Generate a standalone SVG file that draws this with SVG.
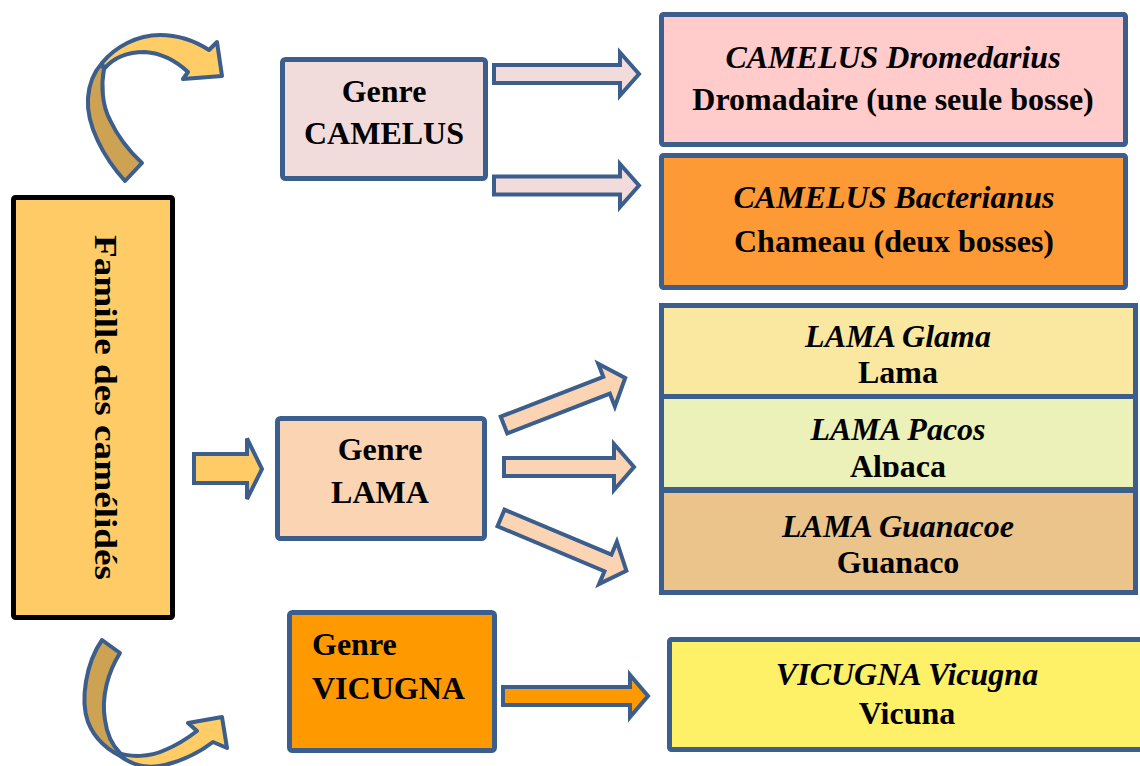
<svg xmlns="http://www.w3.org/2000/svg" width="1140" height="766" viewBox="0 0 1140 766">
  <defs>
    <style>
      .box { stroke: #3B5E8C; stroke-width: 5; }
      .blk { stroke: #3B5E8C; stroke-width: 4; stroke-linejoin: miter; }
      .curve { stroke: #3B5E8C; stroke-width: 4; stroke-linejoin: round; }
      text { font-family: "Liberation Serif", "Times New Roman", serif; font-size: 32px; font-weight: bold; fill: #000; }
      .c { text-anchor: middle; }
      .it { font-style: italic; }
    </style>
    <clipPath id="alpacaClip">
      <rect x="662" y="398" width="474" height="79"/>
    </clipPath>
  </defs>
  <rect width="1140" height="766" fill="#FFFFFF"/>

  <!-- family (vertical label) -->
  <g id="famille">
    <rect x="13.5" y="197.5" width="159" height="420" rx="2" fill="#FECB67" stroke="#000" stroke-width="5"/>
    <text transform="translate(95,407.5) rotate(90)" class="c" font-size="28" textLength="345" lengthAdjust="spacingAndGlyphs">Famille des camélidés</text>
  </g>

  <!-- genus boxes -->
  <g id="genre-camelus">
    <rect class="box" x="282.5" y="59.5" width="203" height="119" rx="3" fill="#F2DCDB"/>
    <text class="c" x="384" y="102">Genre</text>
    <text class="c" x="384" y="144">CAMELUS</text>
  </g>
  <g id="genre-lama">
    <rect class="box" x="277.5" y="418.5" width="207" height="120" rx="3" fill="#FBD4B4"/>
    <text class="c" x="380" y="460">Genre</text>
    <text class="c" x="380" y="503">LAMA</text>
  </g>
  <g id="genre-vicugna">
    <rect class="box" x="289.5" y="612.5" width="205" height="138" rx="3" fill="#FF9900"/>
    <text x="312" y="655">Genre</text>
    <text x="312" y="699">VICUGNA</text>
  </g>

  <!-- species boxes -->
  <g id="camelus-dromedarius">
    <rect class="box" x="661.5" y="14.5" width="464" height="130" rx="2" fill="#FFCBCB"/>
    <text class="c it" x="893" y="68">CAMELUS Dromedarius</text>
    <text class="c" x="893" y="110">Dromadaire (une seule bosse)</text>
  </g>
  <g id="camelus-bacterianus">
    <rect class="box" x="661.5" y="155.5" width="464" height="132" rx="2" fill="#FE9A35"/>
    <text class="c it" x="894" y="208">CAMELUS Bacterianus</text>
    <text class="c" x="894" y="252">Chameau (deux bosses)</text>
  </g>
  <g id="lama-glama">
    <rect class="box" x="661.5" y="305.5" width="474" height="92" fill="#FAE8A0"/>
    <text class="c it" x="898" y="347">LAMA Glama</text>
    <text class="c" x="898" y="383">Lama</text>
  </g>
  <g id="lama-pacos">
    <rect class="box" x="661.5" y="396.5" width="474" height="93" fill="#EBF1B8"/>
    <text class="c it" x="898" y="440">LAMA Pacos</text>
    <text class="c" x="898" y="477" clip-path="url(#alpacaClip)">Alpaca</text>
  </g>
  <g id="lama-guanacoe">
    <rect class="box" x="661.5" y="490.5" width="474" height="102" fill="#EAC48B"/>
    <text class="c it" x="898" y="537">LAMA Guanacoe</text>
    <text class="c" x="898" y="573">Guanaco</text>
  </g>
  <g id="vicugna-vicugna">
    <rect class="box" x="669.5" y="639.5" width="490" height="110" rx="2" fill="#FEF167"/>
    <text class="c it" x="907" y="685" font-weight="normal">VICUGNA Vicugna</text>
    <text class="c" x="907" y="724">Vicuna</text>
  </g>

  <!-- connectors: block arrows -->
  <g id="connectors">
    <path class="blk" fill="#F2DCDB" d="M494,65 H620 V52.5 L639,74 L620,95.5 V83 H494 Z"/>
    <path class="blk" fill="#F2DCDB" d="M494,176.5 H620 V164 L639,185.5 L620,207 V194.5 H494 Z"/>
    <path class="blk" fill="#FECB67" d="M194,454 H247 V438.5 L262,469 L247,499 V483 H194 Z"/>
    <path class="blk" fill="#FBD4B4" transform="translate(504,425) rotate(-21.2)" d="M0,-9 H110 V-23 L130,0 L110,23 V9 H0 Z"/>
    <path class="blk" fill="#FBD4B4" transform="translate(504,467)" d="M0,-9 H110 V-23 L130,0 L110,23 V9 H0 Z"/>
    <path class="blk" fill="#FBD4B4" transform="translate(501,518) rotate(22.8)" d="M0,-9 H116 V-23 L136,0 L116,23 V9 H0 Z"/>
    <path class="blk" fill="#FF9900" d="M503,687 H630 V675 L648,696 L630,717 V705 H503 Z"/>

    <!-- curved arrow, upper left -->
    <path class="curve" fill="#CDA252" d="M125,181 C104,158 86,125 88,98 C89,83 94,72 102,63 L104,69 C101,85 102,105 110,120 C117,135 128,150 142,163 Z"/>
    <path class="curve" fill="#FFCC66" d="M102,63 C115,47 137,35 160,35 C178,35 195,41 209,50 L217,42 L222,76 L183,79 L188,72 C175,60 160,53 145,52 C128,52 113,58 104,69 Z"/>

    <!-- curved arrow, lower left -->
    <path class="curve" fill="#CDA252" d="M102,640 L120,653 C108,672 101,697 105,720 C107,735 112,745 120,753 L127,759 C110,752 95,740 88,722 C80,700 86,663 102,640 Z"/>
    <path class="curve" fill="#FFCC66" d="M116,752 C130,758 150,757 165,750 C177,745 188,738 197,731 L188,723 L222,717 L227,748 L213,742 C200,752 185,760 165,765 C148,769 130,766 116,752 Z"/>
  </g>
</svg>
